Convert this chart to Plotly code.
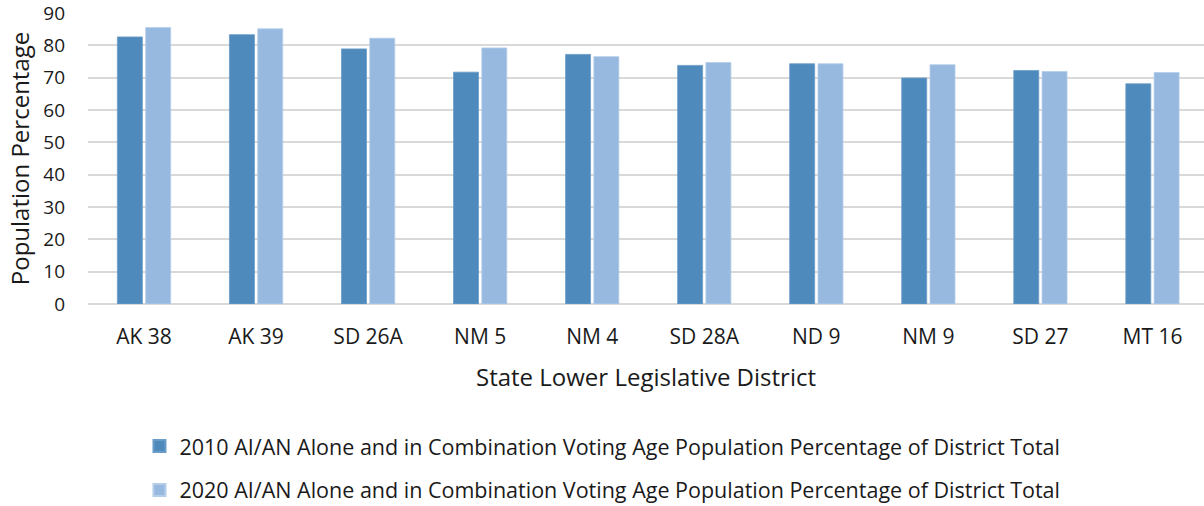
import plotly.graph_objects as go

districts = ["AK 38", "AK 39", "SD 26A", "NM 5", "NM 4", "SD 28A", "ND 9", "NM 9", "SD 27", "MT 16"]
pct_2010 = [82.6, 83.3, 78.9, 71.7, 77.2, 73.8, 74.3, 69.9, 72.2, 68.1]
pct_2020 = [85.5, 85.1, 82.2, 79.2, 76.5, 74.7, 74.3, 74.0, 71.9, 71.6]
name_2010 = "2010 AI/AN Alone and in Combination Voting Age Population Percentage of District Total"
name_2020 = "2020 AI/AN Alone and in Combination Voting Age Population Percentage of District Total"
y_ticks = [0, 10, 20, 30, 40, 50, 60, 70, 80, 90]

FONT = "'Open Sans', Lato, sans-serif"

fig = go.Figure()
fig.add_trace(go.Bar(x=districts, y=pct_2010, name=name_2010, legendgroup="a",
                     marker=dict(color="#4F8ABD", line=dict(color="#6a9cc8", width=0.8))))
fig.add_trace(go.Bar(x=districts, y=pct_2020, name=name_2020, legendgroup="b",
                     marker=dict(color="#98B9DF", line=dict(color="#b4cde9", width=0.8))))

fig.update_layout(
    width=1204, height=506,
    margin=dict(l=88, r=0, t=13, b=202, autoexpand=False),
    plot_bgcolor="white", paper_bgcolor="white",
    barmode="group", bargap=0.495, bargroupgap=0.117,
    font=dict(family=FONT, color="#1a1a1a", size=16),
    showlegend=True,
    legend=dict(orientation="v", x=0.461, xanchor="center", y=-0.418, yanchor="top",
                font=dict(size=21.5, family=FONT), tracegroupgap=13, traceorder="grouped",
                itemsizing="constant"),
)
fig.update_xaxes(
    range=[-0.5, 9.46], showgrid=False, showline=False, ticks="",
    ticklabelstandoff=18, tickfont=dict(size=21),
    title=dict(text="State Lower Legislative District", font=dict(size=24), standoff=20),
)
fig.update_yaxes(
    range=[0, 90], tickvals=y_ticks, showgrid=True, gridcolor="#d9d9d9", gridwidth=1.5,
    zeroline=True, zerolinecolor="#d9d9d9", zerolinewidth=1.5,
    ticks="", ticklabelstandoff=22, tickfont=dict(size=19), ticklabeloverflow="allow",
    title=dict(text="Population Percentage", font=dict(size=24), standoff=6),
)

fig.write_html("out.html")
